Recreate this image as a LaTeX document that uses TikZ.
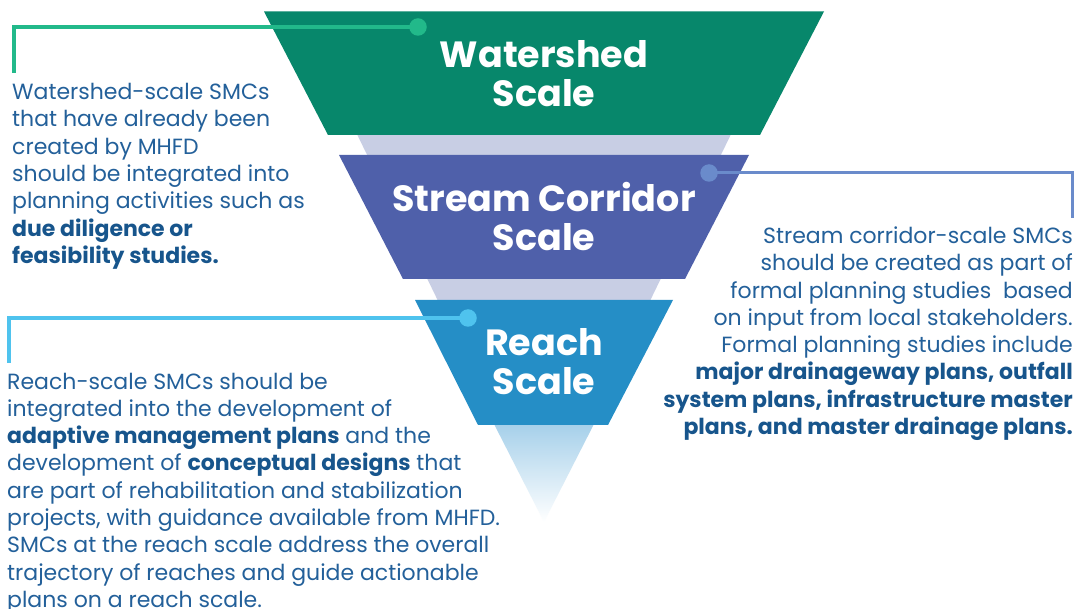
\documentclass[tikz,border=0pt]{standalone}
\usepackage{fontspec}
\setmainfont{Poppins}
\definecolor{wsgreen}{HTML}{07876B}
\definecolor{scblue}{HTML}{4F60AA}
\definecolor{rcblue}{HTML}{258EC6}
\definecolor{bandgray}{HTML}{C8CEE4}
\definecolor{lngreen}{HTML}{22B98A}
\definecolor{lnpurple}{HTML}{6A8BCB}
\definecolor{lncyan}{HTML}{4FC3EE}
\definecolor{txtblue}{HTML}{23609A}
\definecolor{boldblue}{HTML}{17558C}
\definecolor{gradtop}{HTML}{A6D0EA}
\newcommand\bhl[1]{{\bfseries\color{boldblue}#1}}
\begin{document}
\begin{tikzpicture}[x=1pt,y=-1pt,
  heading/.style={text=white, font=\fontsize{36.5}{39.5}\selectfont\bfseries, align=center, inner sep=0pt},
  body/.style={text=txtblue, font=\fontsize{22}{27.3}\selectfont, inner sep=0pt},
  dot/.style={circle, inner sep=0pt, minimum size=17.5pt},
  conn/.style={line width=3.5pt}]
\useasboundingbox (0,0) rectangle (1074,609);
\fill[white] (0,0) rectangle (1074,609);
% background funnel
\fill[bandgray] (354,128) -- (734,128) -- (648,305) -- (440,305) -- cycle;
\shade[top color=gradtop, bottom color=white] (494,424) -- (594,424) -- (544,522) -- cycle;
% tiers
\fill[wsgreen] (264,11.5) -- (824,11.5) -- (760,135) -- (328,135) -- cycle;
\fill[scblue] (339,155) -- (749,155) -- (685,279) -- (403,279) -- cycle;
\fill[rcblue] (415,300) -- (673,300) -- (608,425) -- (478,425) -- cycle;
\node[heading, anchor=base] (hws) at (544,107) {Watershed\\Scale};
\node[heading, anchor=base] (hsc) at (544,251) {Stream Corridor\\Scale};
\node[heading, anchor=base] (hrc) at (544,395) {Reach\\Scale};
% connectors
\node[dot, fill=lngreen] (dws) at (418,27) {};
\coordinate (cws1) at (14,27);
\coordinate (cws2) at (14,73);
\draw[conn, lngreen] (dws.center) -- (cws1) -- (cws2);
\node[dot, fill=lnpurple] (dsc) at (709,173) {};
\coordinate (csc1) at (1072,173);
\coordinate (csc2) at (1072,218);
\draw[conn, lnpurple, line width=3pt] (dsc.center) -- (csc1) -- (csc2);
\node[dot, fill=lncyan] (drc) at (468,318) {};
\coordinate (crc1) at (9,318);
\coordinate (crc2) at (9,363);
\draw[conn, lncyan, line width=4pt] (drc.center) -- (crc1) -- (crc2);
% texts
\node[body, anchor=base west, align=left] (tws) at (12,263.5)
 {Watershed-scale SMCs\\that have already been\\created by MHFD\\should be integrated into\\planning activities such as\\\bhl{due diligence or}\\\bhl{feasibility studies.}};
\node[body, anchor=base east, align=right] (tsc) at (1073,434.6)
 {Stream corridor-scale SMCs\\should be created as part of\\formal planning studies\ \ based\\on input from local stakeholders.\\Formal planning studies include\\\bhl{major drainageway plans, outfall}\\\bhl{system plans, infrastructure master}\\\bhl{plans, and master drainage plans.}};
\node[body, anchor=base west, align=left] (trc) at (7,607.4)
 {Reach-scale SMCs should be\\integrated into the development of\\\bhl{adaptive management plans} and the\\development of \bhl{conceptual designs} that\\are part of rehabilitation and stabilization\\projects, with guidance available from MHFD.\\SMCs at the reach scale address the overall\\trajectory of reaches and guide actionable\\plans on a reach scale.};
\end{tikzpicture}
\end{document}
